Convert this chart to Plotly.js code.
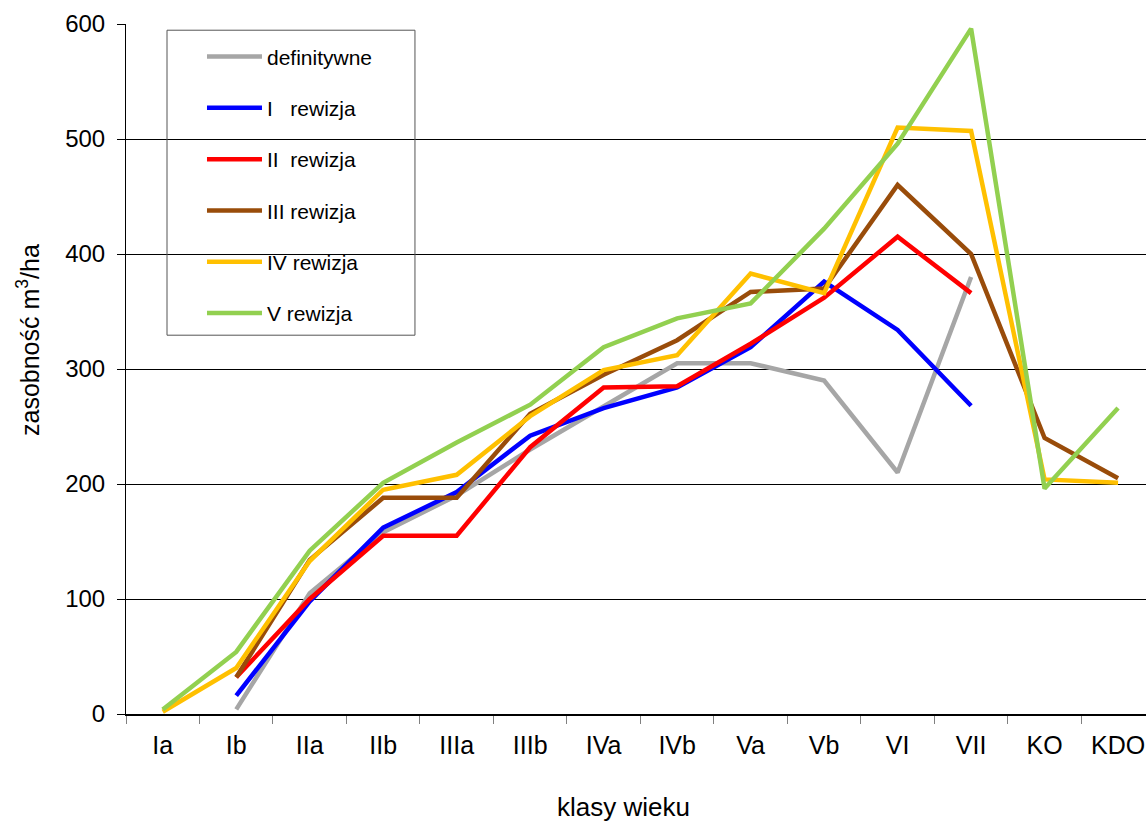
<!DOCTYPE html>
<html>
<head>
<meta charset="utf-8">
<script src="https://cdn.plot.ly/plotly-3.0.1.min.js"></script>
<style>html,body{margin:0;padding:0;background:#fff;}#chart{width:1146px;height:823px;}</style>
</head>
<body>
<div id="chart"></div>
<script>
const categories = ["Ia","Ib","IIa","IIb","IIIa","IIIb","IVa","IVb","Va","Vb","VI","VII","KO","KDO"];
const seriesNames = ["definitywne","I   rewizja","II  rewizja","III rewizja","IV rewizja","V rewizja"];
const definitywne = [null, 4, 105, 158, 190, 230, 268, 305, 305, 290, 210, 380, null, null];
const rewizja1 = [null, 16, 98, 162, 193, 242, 266, 284, 319, 376, 334, 268, null, null];
const rewizja2 = [null, 32, 100, 155, 155, 232, 284, 285, 322, 362, 415, 366, null, null];
const rewizja3 = [null, 32, 134, 188, 188, 261, 295, 325, 367, 370, 460, 400, 240, 205];
const rewizja4 = [2, 40, 133, 195, 208, 259, 299, 312, 383, 366, 510, 507, 204, 201];
const rewizja5 = [4, 54, 142, 201, 236, 269, 319, 344, 357, 422, 496, 596, 196, 266];
const colors = ["#a6a6a6","#0000ff","#ff0000","#994c0a","#ffc000","#92d050"];
const yTicks = [0,100,200,300,400,500,600];

const allSeries = [definitywne, rewizja1, rewizja2, rewizja3, rewizja4, rewizja5];
const traces = allSeries.map((ys, i) => ({
  type: "scatter", mode: "lines", x: categories, y: ys, name: seriesNames[i],
  legendgroup: "g" + i,
  line: {color: colors[i], width: 4.5},
  connectgaps: false, hoverinfo: "skip"
}));

const font = "Liberation Sans, Arial, sans-serif";
const layout = {
  width: 1146, height: 823,
  margin: {l: 126, r: 0, t: 24, b: 109},
  paper_bgcolor: "#fff", plot_bgcolor: "#fff",
  showlegend: true,
  font: {family: font, color: "#000"},
  xaxis: {
    type: "category", range: [-0.5, 13.38],
    tickson: "boundaries", ticks: "outside", ticklen: 8, tickcolor: "#808080",
    showline: true, linecolor: "#000", linewidth: 1.5,
    showgrid: false, zeroline: false,
    tickfont: {size: 25, family: font, color: "#000"},
    ticklabelstandoff: 8
  },
  yaxis: {
    range: [0, 600], tickvals: yTicks, ticktext: yTicks.map(String),
    ticks: "outside", ticklen: 8, tickcolor: "#000",
    showline: true, linecolor: "#000", linewidth: 1,
    showgrid: true, gridcolor: "#000", gridwidth: 1, zeroline: false,
    tickfont: {size: 24, family: font, color: "#000"},
    ticklabelstandoff: 7
  },
  legend: {
    x: 0.0745, y: 0.982, xanchor: "left", yanchor: "top",
    bgcolor: "rgba(0,0,0,0)", borderwidth: 0,
    font: {size: 21, family: font, color: "#000"},
    traceorder: "grouped", tracegroupgap: 21,
    itemwidth: 55
  },
  shapes: [{
    type: "rect", xref: "paper", yref: "paper",
    x0: 0.0402, x1: 0.2833, y0: 0.549, y1: 0.991,
    line: {color: "#555", width: 1}, fillcolor: "rgba(0,0,0,0)", layer: "above"
  }],
  annotations: [
    {text: "klasy wieku", xref: "paper", yref: "paper", x: (623-126)/1020, y: -(807-714)/690,
     xanchor: "center", yanchor: "middle", showarrow: false, font: {size: 26, family: font, color: "#000"}},
    {text: "zasobność m<sup>3</sup>/ha", xref: "paper", yref: "paper", x: (28-126)/1020, y: (714-340)/690,
     xanchor: "center", yanchor: "middle", textangle: -90, showarrow: false, font: {size: 25, family: font, color: "#000"}}
  ]
};

Plotly.newPlot("chart", traces, layout, {displayModeBar: false, staticPlot: true});
</script>
</body>
</html>
